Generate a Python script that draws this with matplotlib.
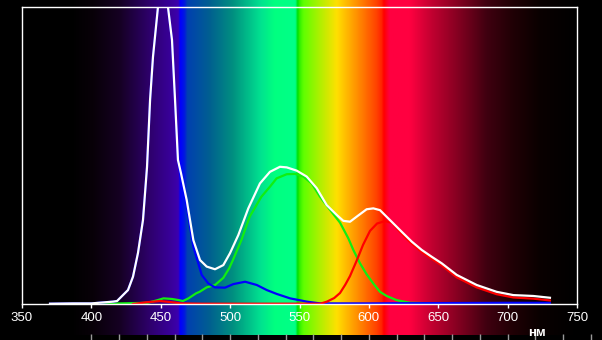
import numpy as np
import matplotlib
matplotlib.use("Agg")
import matplotlib.pyplot as plt
from matplotlib.colors import LinearSegmentedColormap, Normalize

plt.rcParams['font.family'] = ['Liberation Sans', 'DejaVu Sans']

# spectrum background: wavelength (nm) -> colour
spec_nm = [334, 385, 401, 420, 442, 459, 462.5, 464, 467, 469, 485.5, 502, 521.5, 532,
           547.0, 548.8, 550, 553, 564.8, 577, 588.6, 606, 609.5, 611, 615, 629.6,
           646, 665.7, 685, 704, 723, 750, 768]
spec_col = ['#000000', '#000000', '#080008', '#150022', '#2e006c', '#3a00a0', '#3c00b0',
            '#0000ff', '#0018e0', '#0040b0', '#006090', '#009080', '#00e090', '#00ff80',
            '#00ff88', '#00e000', '#30f000', '#60ff00', '#b0f000', '#ffe000', '#ffa000',
            '#ff4000', '#ff2000', '#ff0000', '#ff0040', '#ff0040', '#c00030', '#800020',
            '#400010', '#200005', '#0a0000', '#000000', '#000000']

# curves (relative intensity, top of frame = 100)
white_nm = [370.2, 386.8, 400, 415.6, 418.5, 426.4, 430.0, 433.6, 437.2, 440.1, 442.3, 444.4,
            448.0, 450.0, 451.6, 453.5, 455.2, 458.1, 460.3, 462.4, 464.6, 468.7, 473.5, 478.3,
            483.1, 489.1, 495.1, 499.9, 505.9, 513.1, 521.5, 528.7, 535.9, 540.8, 548.0, 555.2,
            562.4, 569.6, 576.8, 581.6, 586.4, 591.2, 598.4, 603.2, 608.0, 616.4, 623.7, 630.9,
            638.1, 645.3, 652.5, 663.3, 677.7, 692.1, 704.1, 718.5, 730.5]
white_val = [0.1, 0.2, 0.2, 0.8, 1.0, 4.7, 9.2, 17.2, 28.3, 46.1, 68.7, 83.2,
             100.0, 110.0, 113.0, 110.0, 100.0, 88.9, 68.7, 48.5, 44.0, 35.0, 21.5, 14.8,
             12.6, 11.7, 13.1, 17.1, 23.2, 32.2, 40.6, 44.5, 46.2, 46.0, 44.9, 42.9,
             39.0, 33.3, 30.0, 28.0, 27.7, 29.4, 31.9, 32.2, 31.6, 27.7, 24.3, 21.0,
             18.2, 15.9, 13.7, 9.8, 6.4, 4.1, 3.0, 2.7, 2.1]

red_nm = [430, 440, 449.5, 458, 465, 480, 565, 569.8, 575, 579.2, 583, 586.4, 591.4, 595.8,
          600.8, 605.9, 611.6, 616.7, 623.7, 630.9, 638.1, 645.3, 652.5, 663.3, 677.7, 692.1,
          704.1, 718.5, 730.5]
red_val = [0.0, 0.6, 1.0, 0.6, 0.2, 0.1, 0.1, 0.8, 2.0, 3.7, 6.5, 9.4, 14.8, 19.9,
           24.6, 27.1, 27.9, 27.3, 23.6, 20.3, 17.5, 15.2, 13.0, 9.0, 5.6, 3.3,
           2.2, 1.8, 1.2]

green_nm = [392, 399, 420, 440.5, 447, 452, 458, 463, 466, 470, 475.5, 478, 483.1, 489.1,
            495.1, 499.3, 502.0, 508.1, 514.1, 522.5, 528.7, 533.5, 540.8, 546.8, 552.8,
            558.8, 564.8, 572.0, 579.2, 585.2, 588.8, 593.6, 598.4, 603.2, 608.0, 612.8,
            620.0, 629.6, 650, 700, 730]
green_val = [0.0, 0.0, 0.2, 0.4, 1.2, 1.9, 1.7, 1.3, 1.0, 1.9, 3.6, 4.1, 5.6, 6.4,
             8.8, 12.0, 14.8, 21.5, 29.4, 36.1, 39.5, 42.3, 43.7, 43.8, 42.9,
             40.6, 36.1, 31.7, 27.4, 22.1, 18.2, 13.7, 10.0, 6.9, 4.1, 2.7,
             1.3, 0.4, 0.2, 0.1, 0.0]

blue_nm = [370.2, 386.8, 400, 415.6, 418.5, 426.4, 430.0, 433.6, 437.2, 440.1, 442.3, 444.4,
           448.0, 450.0, 451.6, 453.5, 455.2, 458.1, 460.3, 462.4, 464.6, 468.7, 473.5, 479.5,
           484.3, 489.1, 496.3, 502.3, 510.8, 519.2, 526.4, 533.5, 543.2, 555.2, 564.8,
           600, 650, 700, 730.5]
blue_val = [0.1, 0.2, 0.2, 0.8, 1.0, 4.7, 9.2, 17.2, 28.3, 46.1, 68.7, 83.2,
            100.0, 110.0, 113.0, 110.0, 100.0, 88.9, 68.7, 48.5, 42.0, 32.8, 19.3, 9.8,
            6.9, 5.6, 5.5, 6.7, 7.5, 6.4, 4.7, 3.4, 1.9, 0.8, 0.2,
            0.2, 0.3, 0.4, 0.4]

x_ticks = [350, 400, 450, 500, 550, 600, 650, 700, 750]
ruler_ticks = list(range(400, 761, 20))

W, H = 602, 340
x0, x1 = 22, 577
y_top, y_bot = 7, 304
px_per_nm = (x1 - x0) / 400.0
nm_left = 350 - x0 / px_per_nm
nm_right = 350 + (W - x0) / px_per_nm

fig = plt.figure(figsize=(W / 100, H / 100), dpi=100, facecolor='black')

# background with the spectrum and the grey ruler at the very bottom
bg = fig.add_axes([0, 0, 1, 1])
pos = [(n - nm_left) / (nm_right - nm_left) for n in spec_nm]
pos[0], pos[-1] = 0.0, 1.0
cmap = LinearSegmentedColormap.from_list('spec', list(zip(pos, spec_col)), N=1024)
grad = np.linspace(nm_left, nm_right, 1500)[None, :]
bg.imshow(grad, cmap=cmap, norm=Normalize(nm_left, nm_right), aspect='auto',
          extent=(nm_left, nm_right, 335, 0), interpolation='bilinear')
bg.vlines(ruler_ticks, 334, 340, color='#9a9a9a', lw=1)
bg.set_xlim(nm_left, nm_right)
bg.set_ylim(H, 0)
bg.axis('off')

ax = fig.add_axes([x0 / W, (H - y_bot) / H, (x1 - x0) / W, (y_bot - y_top) / H])
ax.patch.set_alpha(0)
ax.plot(green_nm, green_val, color='#11ee11', lw=1.6)
ax.plot(blue_nm, blue_val, color='#0000ff', lw=1.6)
ax.plot(red_nm, red_val, color='#ff0000', lw=1.6)
ax.plot(white_nm, white_val, color='white', lw=1.6)

ax.set_xlim(350, 750)
ax.set_ylim(0, 100)
ax.set_xticks(x_ticks)
ax.set_yticks([])
for s in ax.spines.values():
    s.set_color('white')
    s.set_linewidth(1.0)
ax.tick_params(axis='x', colors='white', length=3, width=1, pad=3, labelsize=9.5)

fig.text(537 / W, (H - 332.5) / H, 'нм', color='white', fontsize=9.5,
         fontweight='bold', ha='center', va='center')

fig.savefig('out.png', dpi=100, facecolor='black')
